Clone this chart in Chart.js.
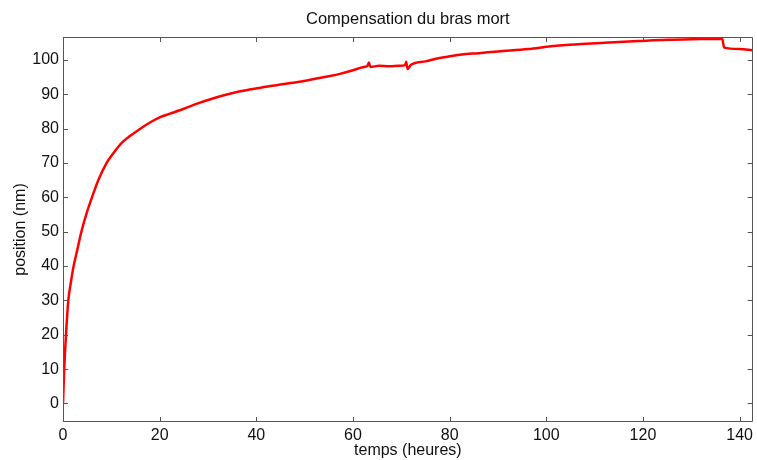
<!DOCTYPE html>
<html><head><meta charset="utf-8">
<script src="https://cdn.jsdelivr.net/npm/chart.js@4.4.1/dist/chart.umd.min.js"></script>
<style>html,body{margin:0;padding:0;background:#fff}#wrap{width:757px;height:460px}</style>
</head><body><div id="wrap"><canvas id="c" width="757" height="460"></canvas></div>
<script>
const chartTitle = 'Compensation du bras mort';
const hours = [0,0.1,0.25,0.5,0.7,1.1,1.6,2.2,3.0,3.8,4.8,6.0,7.3,9.0,10.5,12.1,14,16,18,20,22,25,28.2,31,33.7,36,38.6,42,45,48.9,52,55,57.1,60,62,63,63.3,63.6,65.4,67.5,69.5,70.8,71.0,71.3,72,75,77,79.8,82.5,86,90,96.3,101,106.6,112,119,125,132,136.4,136.8,140,142.7];
const position = [0,4,10,17,22,30,35,40,45,50,55,60,65,70,73,75.8,78,80,81.8,83.3,84.3,85.8,87.5,88.8,89.9,90.7,91.4,92.2,92.9,93.7,94.5,95.3,95.9,97.0,97.9,98.3,99.3,98.0,98.3,98.2,98.3,98.5,99.5,97.4,98.6,99.6,100.3,101,101.6,102,102.5,103.2,104,104.6,105,105.5,105.9,106.1,106.2,103.6,103.2,102.8];
const xTicks = [0,20,40,60,80,100,120,140];
const yTicks = [0,10,20,30,40,50,60,70,80,90,100];
const FONT = "Arial, 'Liberation Sans', sans-serif";

const framePlugin = {
  id: 'frame',
  afterDraw(chart) {
    const {ctx, chartArea: a, scales: {x, y}} = chart;
    ctx.save();
    ctx.strokeStyle = '#555';
    ctx.lineWidth = 1;
    ctx.beginPath();
    ctx.rect(Math.round(a.left) + 0.5, Math.round(a.top) + 0.5, Math.round(a.right - a.left) - 1, Math.round(a.bottom - a.top) - 1);
    const L = 5;
    xTicks.forEach(v => {
      const px = Math.round(x.getPixelForValue(v)) + 0.5;
      ctx.moveTo(px, a.bottom); ctx.lineTo(px, a.bottom - L);
      ctx.moveTo(px, a.top); ctx.lineTo(px, a.top + L);
    });
    yTicks.forEach(v => {
      const py = Math.round(y.getPixelForValue(v)) + 0.5;
      ctx.moveTo(a.left, py); ctx.lineTo(a.left + L, py);
      ctx.moveTo(a.right, py); ctx.lineTo(a.right - L, py);
    });
    ctx.stroke();
    // title centred over the plot area
    ctx.fillStyle = '#111';
    ctx.font = '16.5px ' + FONT;
    ctx.textAlign = 'center';
    ctx.textBaseline = 'middle';
    ctx.fillText(chartTitle, (a.left + a.right) / 2, 19);
    ctx.restore();
  }
};

new Chart(document.getElementById('c'), {
  type: 'line',
  data: {
    datasets: [{
      data: hours.map((h, i) => ({x: h, y: position[i]})),
      borderColor: '#ff0000',
      borderWidth: 2.5,
      pointRadius: 0,
      fill: false,
      cubicInterpolationMode: 'monotone'
    }]
  },
  options: {
    responsive: false,
    animation: false,
    layout: {padding: {left: 0, right: 2, top: 37, bottom: 0}},
    plugins: {
      legend: {display: false},
      tooltip: {enabled: false},
      title: {display: false}
    },
    scales: {
      x: {
        type: 'linear',
        min: 0, max: 142.7,
        afterBuildTicks: s => { s.ticks = xTicks.map(v => ({value: v})); },
        afterFit: s => { s.height = 38; },
        grid: {display: false, drawTicks: false},
        border: {display: false},
        ticks: {color: '#111', font: {family: FONT, size: 16}, padding: 4, maxRotation: 0, autoSkip: false},
        title: {display: true, text: 'temps (heures)', color: '#111', font: {family: FONT, size: 16}, padding: {top: 0, bottom: 0}}
      },
      y: {
        type: 'linear',
        min: -5.4, max: 106.7,
        afterBuildTicks: s => { s.ticks = yTicks.map(v => ({value: v})); },
        afterFit: s => { s.width = 63; },
        grid: {display: false, drawTicks: false},
        border: {display: false},
        ticks: {color: '#111', font: {family: FONT, size: 16}, padding: 4, autoSkip: false},
        title: {display: true, text: 'position (nm)', color: '#111', font: {family: FONT, size: 16}, padding: {top: 11, bottom: 0}}
      }
    }
  },
  plugins: [framePlugin]
});
</script>
</body></html>
